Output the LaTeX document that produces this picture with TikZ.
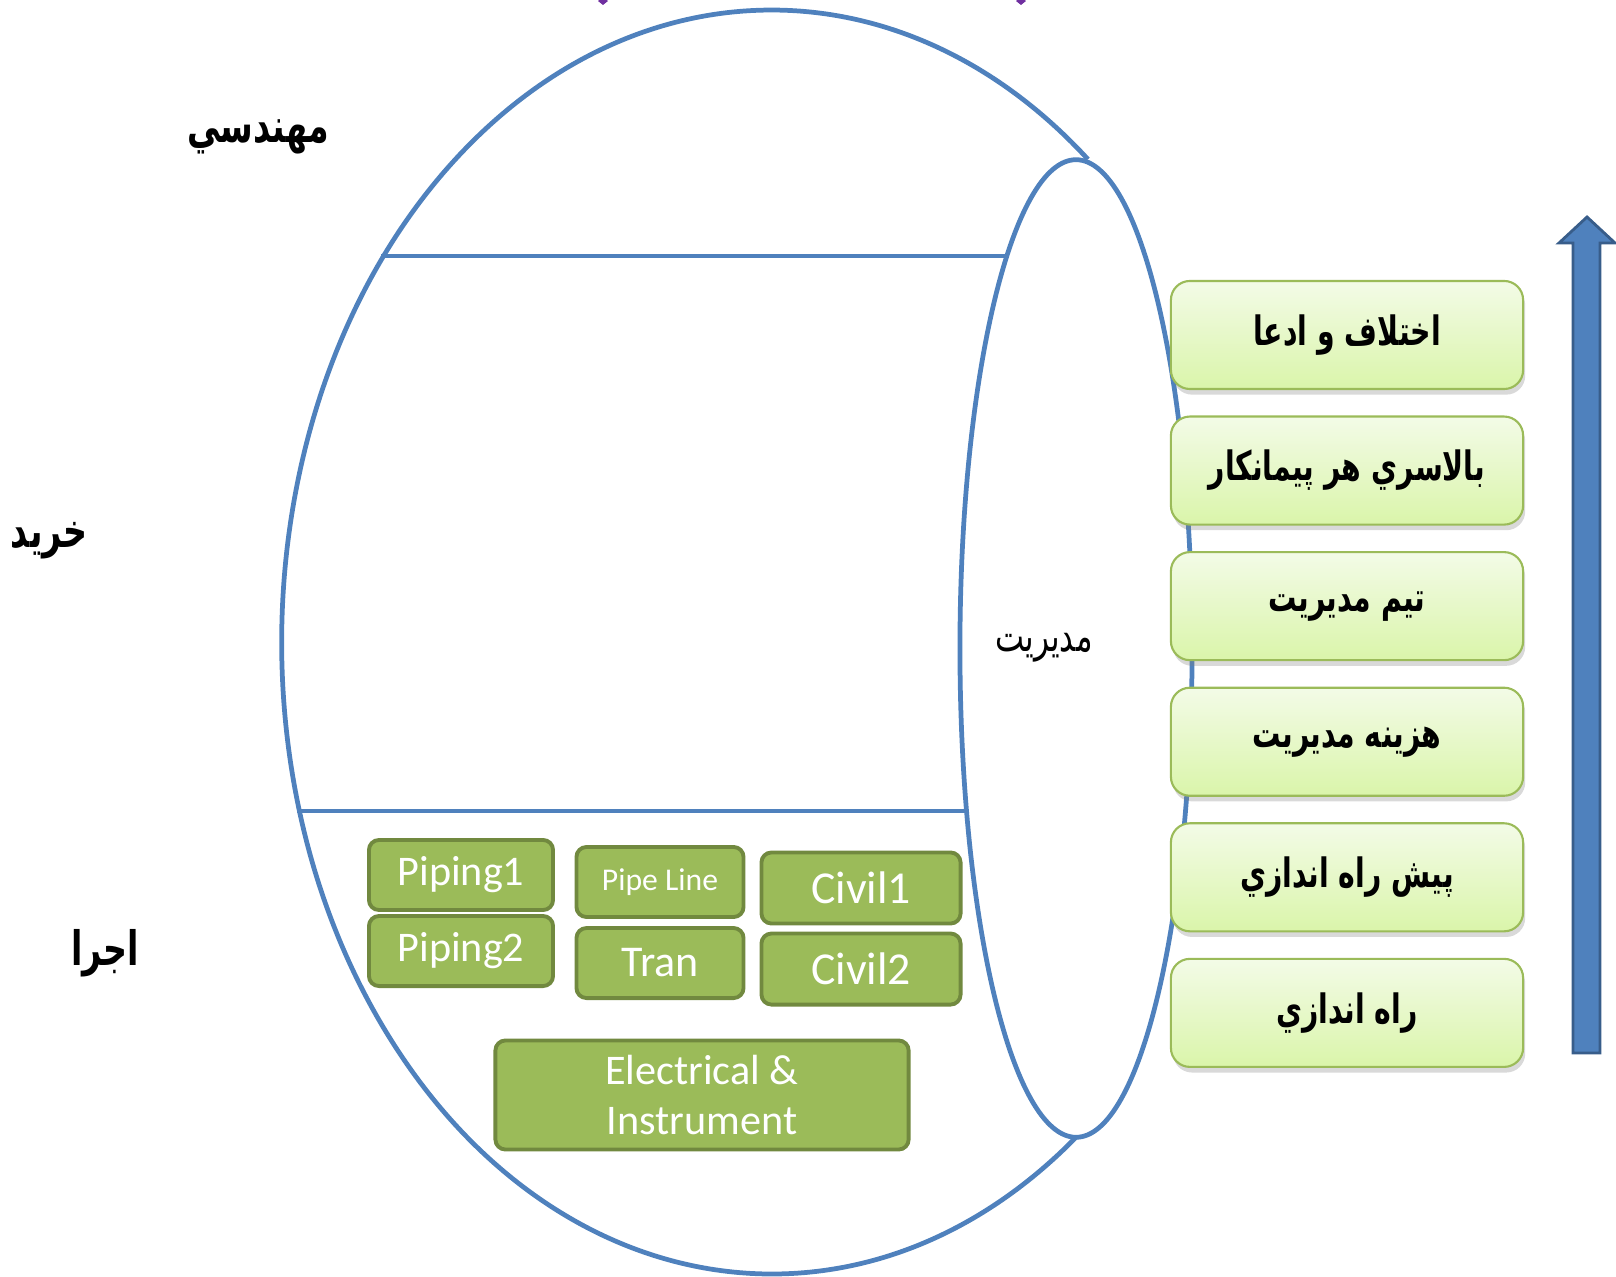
\documentclass[tikz,border=0pt]{standalone}
\usepackage{fontspec}
\setmainfont{Carlito}
\newfontfamily\arabicfont[Script=Arabic,FakeStretch=0.7]{DejaVu Sans}
\TeXXeTstate=1
\usetikzlibrary{positioning,shapes.geometric,shadows}
\definecolor{tubeblue}{RGB}{79,129,189}
\definecolor{arrowedge}{RGB}{56,93,138}
\definecolor{workfill}{RGB}{155,187,89}
\definecolor{workedge}{RGB}{113,137,63}
\definecolor{costtop}{RGB}{243,251,231}
\definecolor{costbottom}{RGB}{218,245,170}
\definecolor{costedge}{RGB}{155,187,89}
\definecolor{markpurple}{RGB}{112,48,160}
\newcommand{\fa}[1]{\arabicfont\bfseries\beginR #1\endR}

\begin{document}
\begin{tikzpicture}[x=0.01cm,y=-0.01cm,on grid,
	tube/.style={draw=tubeblue,line width=1.35pt},
	phase/.style={inner sep=0pt,font=\fontsize{13.5}{15}\selectfont},
	costbox/.style={draw=costedge,line width=0.6pt,rounded corners=0.19cm,top color=costtop,bottom color=costbottom,
		minimum width=3.52cm,minimum height=1.08cm,font=\fontsize{11.5}{13}\selectfont,
		drop shadow={shadow xshift=0.6pt,shadow yshift=-1.6pt,opacity=0.3}},
	workbox/.style={draw=workedge,fill=workfill,line width=1.1pt,rounded corners=0.1cm,text=white,inner sep=0pt}]
	\useasboundingbox (0,0) rectangle (1616,1277);
	% management ring and the cut tube
	\node[ellipse,draw=none,minimum width=2.32cm,minimum height=9.77cm,outer sep=0pt] (mgmt) at (1076,648.5) {};
	\draw[tube] (mgmt.south) arc[start angle=51.6,end angle=310.2,x radius=490,y radius=632];
	\draw[tube,line width=1.1pt] (381,256) -- (1012,256);
	\draw[tube,line width=1.1pt] (297,811) -- (972,811);
	\node[ellipse,tube,fill=white,minimum width=2.32cm,minimum height=9.77cm,outer sep=0pt] at (mgmt) {};
	\node[font=\fontsize{12.5}{14}\selectfont] (mgmtlabel) at (1044,648) {\arabicfont\beginR مديريت\endR};
	% phases
	\node[phase] (eng) at (258,137) {\fa{مهندسي}};
	\node[phase] (buy) at (49,541) {\fa{خريد}};
	\node[phase] (exec) at (105,953) {\fa{اجرا}};
	% marks on the top edge
	\fill[markpurple] (603,-3) -- (608,1) -- (603,5) -- (598,1) -- cycle;
	\fill[markpurple] (1021,-3) -- (1026,1) -- (1021,5) -- (1016,1) -- cycle;
	% contractors
	\node[workbox,minimum width=1.84cm,minimum height=0.70cm,font=\fontsize{12}{14}\selectfont] (piping1) at (461,875) {Piping1};
	\node[workbox,minimum width=1.84cm,minimum height=0.70cm,font=\fontsize{12}{14}\selectfont,below=0.76cm of piping1] (piping2) {Piping2};
	\node[workbox,minimum width=1.67cm,minimum height=0.70cm,font=\fontsize{9}{11}\selectfont] (pipeline) at (660,882) {Pipe Line};
	\node[workbox,minimum width=1.67cm,minimum height=0.70cm,font=\fontsize{12.5}{14}\selectfont,below=0.81cm of pipeline] (tran) {Tran};
	\node[workbox,minimum width=1.99cm,minimum height=0.71cm,font=\fontsize{13}{15}\selectfont] (civil1) at (861,888) {Civil1};
	\node[workbox,minimum width=1.99cm,minimum height=0.71cm,font=\fontsize{13}{15}\selectfont,below=0.81cm of civil1] (civil2) {Civil2};
	\node[workbox,minimum width=4.13cm,minimum height=1.09cm,align=center,font=\fontsize{12}{14}\selectfont] (elec) at (702,1095) {Electrical \&\\Instrument};
	% cost items
	\node[costbox] (claim) at (1347,335) {\fa{اختلاف و ادعا}};
	\node[costbox,below=1.355cm of claim] (overhead) {\fa{بالاسري هر پيمانكار}};
	\node[costbox,below=1.355cm of overhead] (team) {\fa{تيم مديريت}};
	\node[costbox,below=1.355cm of team] (cost) {\fa{هزينه مديريت}};
	\node[costbox,below=1.355cm of cost] (precomm) {\fa{پيش راه اندازي}};
	\node[costbox,below=1.355cm of precomm] (comm) {\fa{راه اندازي}};
	% rising arrow
	\draw[draw=arrowedge,fill=tubeblue,line width=0.8pt] (1573,1053) -- (1573,243) -- (1559,243) -- (1587,217)
		-- (1615,243) -- (1600,243) -- (1600,1053) -- cycle;
\end{tikzpicture}
\end{document}
